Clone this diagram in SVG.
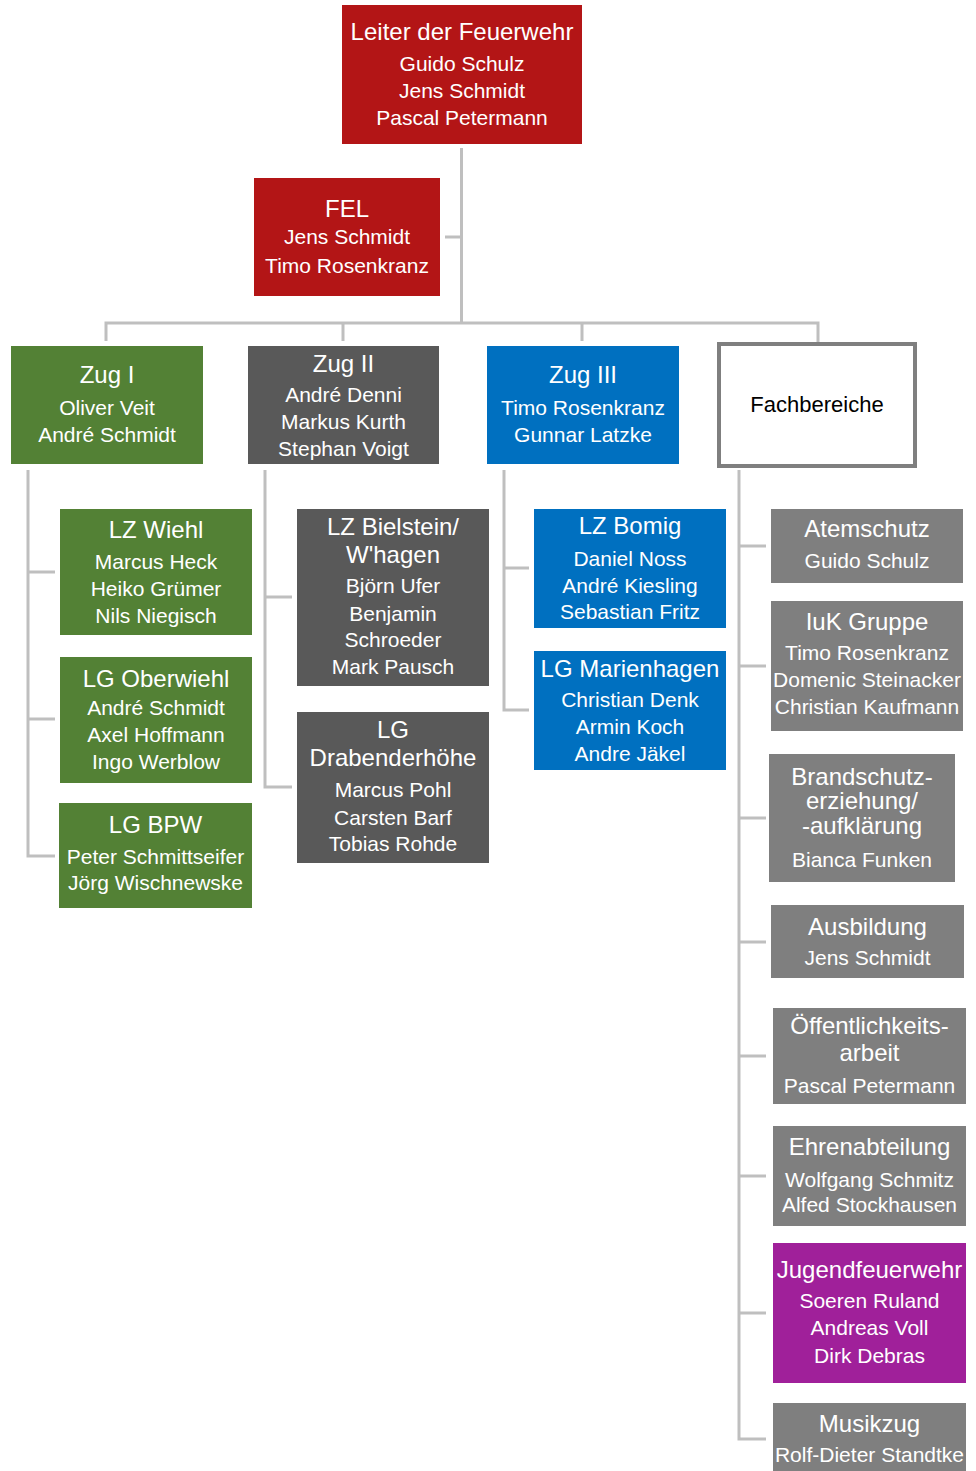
<svg xmlns="http://www.w3.org/2000/svg" width="976" height="1471" viewBox="0 0 976 1471">
<style>
.red{fill:#B31516}
.green{fill:#538135}
.dgray{fill:#595959}
.blue{fill:#0070C0}
.gray{fill:#7F7F7F}
.purple{fill:#A0209A}
text{font-family:"Liberation Sans",Arial,sans-serif;fill:#fff;text-anchor:middle}
.t{font-size:24px}
.n{font-size:21px}
.conn{fill:none;stroke:#BFBFBF;stroke-width:3}
</style>
<rect width="976" height="1471" fill="#fff"/>
<g id="connectors" class="conn">
<path d="M461.5 148V323M445 237H461.5M106 341V323H818V342M343 323V341M582 323V341"/>
<path d="M28 470V856H55M28 572H55M28 719H55"/>
<path d="M265 470V787H292M265 597H292"/>
<path d="M504 470V710H529M504 568H529"/>
<path d="M739 470V1439H766M739 546H766M739 666H766M739 818H766M739 942H766M739 1056H766M739 1176H766M739 1313H766"/>
</g>
<g id="leiter"><rect class="red" x="342" y="5" width="240" height="139"/>
<text class="t" x="462" y="40">Leiter der Feuerwehr</text>
<text class="n" x="462" y="71">Guido Schulz</text><text class="n" x="462" y="98">Jens Schmidt</text><text class="n" x="462" y="125">Pascal Petermann</text></g>
<g id="fel"><rect class="red" x="254" y="178" width="186" height="118"/>
<text class="t" x="347" y="217">FEL</text>
<text class="n" x="347" y="244">Jens Schmidt</text><text class="n" x="347" y="273">Timo Rosenkranz</text></g>
<g id="zug1"><rect class="green" x="11" y="346" width="192" height="118"/>
<text class="t" x="107" y="383">Zug I</text>
<text class="n" x="107" y="415">Oliver Veit</text><text class="n" x="107" y="442">André Schmidt</text></g>
<g id="zug2"><rect class="dgray" x="248" y="346" width="191" height="118"/>
<text class="t" x="343.5" y="372">Zug II</text>
<text class="n" x="343.5" y="402">André Denni</text><text class="n" x="343.5" y="429">Markus Kurth</text><text class="n" x="343.5" y="456">Stephan Voigt</text></g>
<g id="zug3"><rect class="blue" x="487" y="346" width="192" height="118"/>
<text class="t" x="583" y="383">Zug III</text>
<text class="n" x="583" y="415">Timo Rosenkranz</text><text class="n" x="583" y="442">Gunnar Latzke</text></g>
<g id="fachbereiche"><rect x="719" y="344" width="196" height="122" fill="#fff" stroke="#7F7F7F" stroke-width="4"/>
<text x="817" y="412" style="font-size:22px;fill:#000">Fachbereiche</text></g>
<g id="lz-wiehl"><rect class="green" x="60" y="509" width="192" height="126"/>
<text class="t" x="156" y="538">LZ Wiehl</text>
<text class="n" x="156" y="569">Marcus Heck</text><text class="n" x="156" y="596">Heiko Grümer</text><text class="n" x="156" y="623">Nils Niegisch</text></g>
<g id="lg-oberwiehl"><rect class="green" x="60" y="657" width="192" height="126"/>
<text class="t" x="156" y="687">LG Oberwiehl</text>
<text class="n" x="156" y="715">André Schmidt</text><text class="n" x="156" y="742">Axel Hoffmann</text><text class="n" x="156" y="769">Ingo Werblow</text></g>
<g id="lg-bpw"><rect class="green" x="59" y="803" width="193" height="105"/>
<text class="t" x="155.5" y="833">LG BPW</text>
<text class="n" x="155.5" y="864">Peter Schmittseifer</text><text class="n" x="155.5" y="890">Jörg Wischnewske</text></g>
<g id="lz-bielstein"><rect class="dgray" x="297" y="509" width="192" height="177"/>
<text class="t" x="393" y="535">LZ Bielstein/</text><text class="t" x="393" y="563">W'hagen</text>
<text class="n" x="393" y="593">Björn Ufer</text><text class="n" x="393" y="621">Benjamin</text><text class="n" x="393" y="647">Schroeder</text><text class="n" x="393" y="674">Mark Pausch</text></g>
<g id="lg-drabenderhoehe"><rect class="dgray" x="297" y="712" width="192" height="151"/>
<text class="t" x="393" y="738">LG</text><text class="t" x="393" y="766">Drabenderhöhe</text>
<text class="n" x="393" y="797">Marcus Pohl</text><text class="n" x="393" y="825">Carsten Barf</text><text class="n" x="393" y="851">Tobias Rohde</text></g>
<g id="lz-bomig"><rect class="blue" x="534" y="509" width="192" height="119"/>
<text class="t" x="630" y="534">LZ Bomig</text>
<text class="n" x="630" y="566">Daniel Noss</text><text class="n" x="630" y="593">André Kiesling</text><text class="n" x="630" y="619">Sebastian Fritz</text></g>
<g id="lg-marienhagen"><rect class="blue" x="534" y="651" width="192" height="119"/>
<text class="t" x="630" y="677">LG Marienhagen</text>
<text class="n" x="630" y="707">Christian Denk</text><text class="n" x="630" y="734">Armin Koch</text><text class="n" x="630" y="761">Andre Jäkel</text></g>
<g id="atemschutz"><rect class="gray" x="771" y="509" width="192" height="74"/>
<text class="t" x="867" y="537">Atemschutz</text>
<text class="n" x="867" y="568">Guido Schulz</text></g>
<g id="iuk"><rect class="gray" x="771" y="601" width="192" height="130"/>
<text class="t" x="867" y="630">IuK Gruppe</text>
<text class="n" x="867" y="660">Timo Rosenkranz</text><text class="n" x="867" y="687">Domenic Steinacker</text><text class="n" x="867" y="714">Christian Kaufmann</text></g>
<g id="brandschutz"><rect class="gray" x="769" y="754" width="186" height="128"/>
<text class="t" x="862" y="785">Brandschutz-<tspan x="862" dy="24">erziehung/</tspan><tspan x="862" dy="25">-aufklärung</tspan></text>
<text class="n" x="862" y="867">Bianca Funken</text></g>
<g id="ausbildung"><rect class="gray" x="771" y="905" width="193" height="73"/>
<text class="t" x="867.5" y="935">Ausbildung</text>
<text class="n" x="867.5" y="965">Jens Schmidt</text></g>
<g id="oeffentlichkeitsarbeit"><rect class="gray" x="773" y="1008" width="193" height="96"/>
<text class="t" x="869.5" y="1034">Öffentlichkeits-</text><text class="t" x="869.5" y="1061">arbeit</text>
<text class="n" x="869.5" y="1093">Pascal Petermann</text></g>
<g id="ehrenabteilung"><rect class="gray" x="773" y="1126" width="193" height="100"/>
<text class="t" x="869.5" y="1155">Ehrenabteilung</text>
<text class="n" x="869.5" y="1187">Wolfgang Schmitz</text><text class="n" x="869.5" y="1212">Alfed Stockhausen</text></g>
<g id="jugendfeuerwehr"><rect class="purple" x="773" y="1243" width="193" height="140"/>
<text class="t" x="869.5" y="1278">Jugendfeuerwehr</text>
<text class="n" x="869.5" y="1308">Soeren Ruland</text><text class="n" x="869.5" y="1335">Andreas Voll</text><text class="n" x="869.5" y="1363">Dirk Debras</text></g>
<g id="musikzug"><rect class="gray" x="773" y="1403" width="193" height="72"/>
<text class="t" x="869.5" y="1432">Musikzug</text>
<text class="n" x="869.5" y="1462">Rolf-Dieter Standtke</text></g>
</svg>
